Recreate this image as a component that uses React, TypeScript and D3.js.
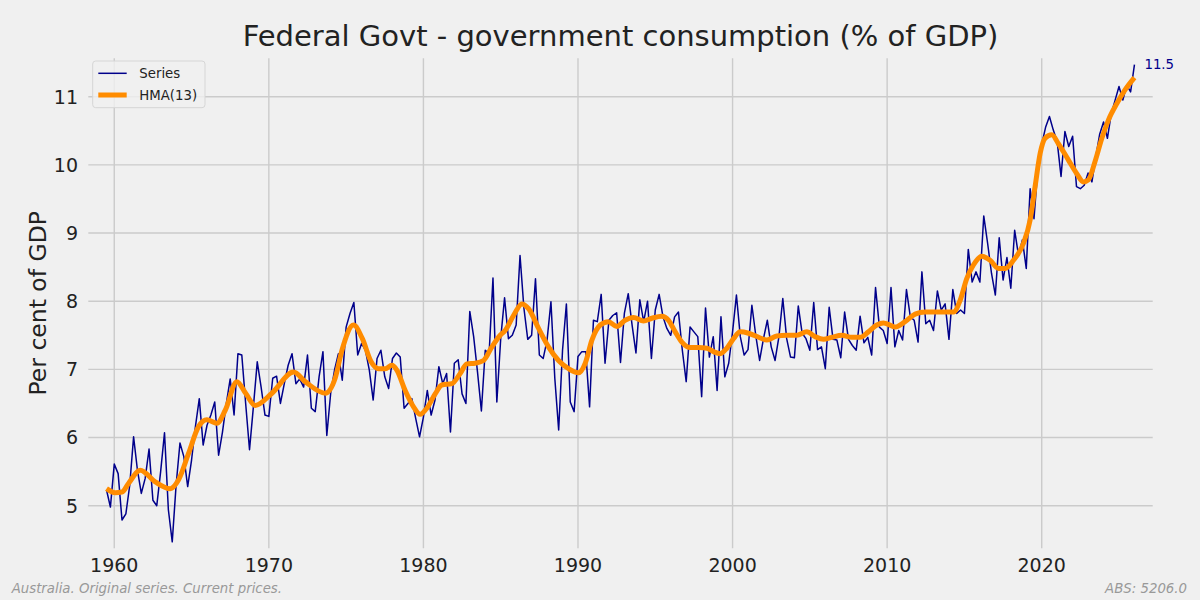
import React from "react";
import * as d3 from "d3";

// quarterly series, first point is the Sep quarter 1959
const firstYear = 1959.5;
const seriesValues = [
  5.23, 4.98, 5.61, 5.47, 4.79, 4.88, 5.3, 6.01, 5.52, 5.18, 5.4, 5.83, 5.08, 5.0, 5.5, 6.07,
  4.94, 4.47, 5.3, 5.92, 5.72, 5.28, 5.67, 6.16, 6.57, 5.89, 6.18, 6.33, 6.52, 5.74, 6.08, 6.5,
  6.86, 6.33, 7.23, 7.21, 6.5, 5.82, 6.45, 7.11, 6.74, 6.33, 6.31, 6.87, 6.9, 6.5, 6.79, 7.06,
  7.23, 6.79, 6.86, 6.74, 7.21, 6.43, 6.38, 6.89, 7.26, 6.03, 6.65, 6.99, 7.23, 6.84, 7.62, 7.82,
  7.98, 7.21, 7.38, 7.28, 6.99, 6.55, 7.16, 7.28, 6.89, 6.72, 7.16, 7.24, 7.18, 6.43, 6.5, 6.57,
  6.28, 6.01, 6.3, 6.69, 6.33, 6.55, 7.04, 6.79, 6.94, 6.08, 7.09, 7.14, 6.64, 6.5, 7.85, 7.48,
  6.96, 6.39, 7.28, 7.23, 8.34, 6.52, 7.45, 8.05, 7.45, 7.5, 7.65, 8.67, 7.9, 7.44, 7.5, 8.33,
  7.21, 7.16, 7.43, 7.99, 6.87, 6.11, 7.28, 7.96, 6.52, 6.38, 7.19, 7.26, 7.26, 6.45, 7.72, 7.7,
  8.1, 7.09, 7.72, 7.79, 7.83, 7.1, 7.82, 8.11, 7.65, 7.24, 8.02, 7.7, 8.0, 7.16, 7.87, 8.1,
  7.77, 7.6, 7.5, 7.77, 7.84, 7.28, 6.82, 7.62, 7.55, 7.48, 6.6, 7.9, 7.18, 7.48, 6.69, 7.77,
  6.89, 7.09, 7.55, 8.09, 7.48, 7.21, 7.29, 7.94, 7.5, 7.13, 7.45, 7.72, 7.33, 7.13, 7.48, 8.04,
  7.45, 7.18, 7.17, 7.93, 7.53, 7.45, 7.28, 7.98, 7.29, 7.33, 7.01, 7.91, 7.44, 7.43, 7.17, 7.84,
  7.44, 7.35, 7.28, 7.78, 7.39, 7.47, 7.21, 8.2, 7.62, 7.57, 7.38, 8.2, 7.33, 7.57, 7.43, 8.17,
  7.77, 7.72, 7.4, 8.43, 7.67, 7.72, 7.57, 8.15, 7.87, 7.96, 7.44, 8.17, 7.82, 7.87, 7.82, 8.76,
  8.28, 8.43, 8.28, 9.25, 8.85, 8.41, 8.09, 8.93, 8.31, 8.64, 8.19, 9.04, 8.67, 8.9, 8.48, 9.65,
  9.21, 9.95, 10.3, 10.55, 10.71, 10.51, 10.34, 9.83, 10.49, 10.27, 10.42, 9.68, 9.65, 9.7, 9.88, 9.75,
  10.12, 10.45, 10.63, 10.39, 10.75, 10.95, 11.15, 10.95, 11.17, 11.07, 11.47,
];

// Henderson moving average
const hmaYears = [
  1959.5, 1960.06, 1960.5, 1960.93, 1961.68, 1962.65, 1963.62, 1964.16, 1964.81, 1965.45,
  1965.99, 1966.64, 1967.18, 1967.93, 1968.5, 1969.12, 1970.2, 1971.6, 1972.35, 1973.65,
  1974.29, 1974.73, 1975.48, 1976.05, 1976.6, 1977.1, 1977.53, 1977.96, 1978.28, 1978.82,
  1979.36, 1979.79, 1980.22, 1980.76, 1981.19, 1981.84, 1982.38, 1982.81, 1983.35, 1983.89,
  1984.43, 1984.97, 1985.29, 1985.83, 1986.37, 1986.8, 1987.45, 1988.09, 1988.74, 1989.39,
  1990.03, 1990.47, 1990.9, 1991.44, 1991.97, 1992.51, 1993.05, 1993.59, 1994.24, 1994.78,
  1995.42, 1995.86, 1996.29, 1996.72, 1997.26, 1997.8, 1998.34, 1998.77, 1999.2, 1999.63,
  2000.06, 2000.49, 2001.03, 2001.79, 2002.22, 2002.86, 2003.51, 2004.16, 2004.8, 2005.34,
  2005.88, 2006.42, 2007.07, 2007.71, 2008.25, 2008.79, 2009.33, 2009.76, 2010.19, 2010.52,
  2011.16, 2011.81, 2012.46, 2013.1, 2013.75, 2014.29, 2014.72, 2015.15, 2015.58, 2016.12,
  2016.66, 2017.2, 2017.63, 2018.17, 2018.82, 2019.25, 2019.57, 2019.9, 2020.22, 2020.65,
  2021.08, 2021.73, 2022.27, 2022.7, 2023.02, 2023.45, 2023.89, 2024.32, 2024.86, 2025.39,
  2026.0,
];
const hmaValues = [
  5.25, 5.19, 5.2, 5.33, 5.52, 5.35, 5.25, 5.38, 5.77, 6.16,
  6.26, 6.21, 6.4, 6.82, 6.65, 6.47, 6.65, 6.96, 6.82, 6.65,
  6.87, 7.28, 7.65, 7.45, 7.12, 7.01, 7.01, 7.06, 6.99, 6.69,
  6.45, 6.34, 6.43, 6.64, 6.77, 6.79, 6.94, 7.08, 7.09, 7.13,
  7.33, 7.5, 7.57, 7.79, 7.96, 7.89, 7.6, 7.33, 7.13, 7.01,
  6.95, 7.09, 7.43, 7.65, 7.7, 7.63, 7.72, 7.76, 7.71, 7.75,
  7.78, 7.72, 7.55, 7.4, 7.32, 7.32, 7.31, 7.26, 7.23, 7.31,
  7.45, 7.55, 7.53, 7.46, 7.43, 7.49, 7.5, 7.5, 7.55, 7.48,
  7.44, 7.47, 7.5, 7.47, 7.47, 7.55, 7.65, 7.68, 7.65, 7.62,
  7.7, 7.81, 7.84, 7.84, 7.84, 7.84, 8.01, 8.33, 8.53, 8.66,
  8.6, 8.48, 8.48, 8.6, 8.85, 9.19, 9.68, 10.17, 10.39, 10.44,
  10.31, 10.07, 9.87, 9.75, 9.78, 10.05, 10.39, 10.66, 10.9, 11.1,
  11.28,
];

const xTicks = [1960, 1970, 1980, 1990, 2000, 2010, 2020];
const yTicks = [5, 6, 7, 8, 9, 10, 11];

const W = 1200;
const H = 600;
const font = "DejaVu Sans, sans-serif";

export default function App() {
  const x = d3.scaleLinear().domain([1958.32, 2027.18]).range([88.3, 1152.7]);
  const y = d3.scaleLinear().domain([4.375, 11.563]).range([548.3, 58.3]);

  const series = seriesValues.map((v, i) => [firstYear + i / 4, v] as [number, number]);
  const hma = hmaYears.map((t, i) => [t, hmaValues[i]] as [number, number]);

  const line = d3
    .line<[number, number]>()
    .x((d) => x(d[0]))
    .y((d) => y(d[1]));
  const seriesPath = line(series);
  const hmaPath = line.curve(d3.curveMonotoneX)(hma);

  const last = series[series.length - 1];
  const [x0, x1] = x.range();
  const [yb, yt] = y.range();

  return (
    <svg
      width={W}
      height={H}
      style={{ position: "absolute", left: 0, top: 0, display: "block" }}
      fontFamily={font}
    >
      <rect width={W} height={H} fill="#f0f0f0" />

      {/* grid */}
      {yTicks.map((t) => (
        <line key={"gy" + t} x1={x0} x2={x1} y1={y(t)} y2={y(t)} stroke="#cbcbcb" strokeWidth={1.4} />
      ))}
      {xTicks.map((t) => (
        <line key={"gx" + t} x1={x(t)} x2={x(t)} y1={yb} y2={yt} stroke="#cbcbcb" strokeWidth={1.4} />
      ))}

      {/* tick labels */}
      {yTicks.map((t) => (
        <text key={"ty" + t} x={78} y={y(t)} dy="0.36em" textAnchor="end" fontSize={19} fill="#222">
          {t}
        </text>
      ))}
      {xTicks.map((t) => (
        <text key={"tx" + t} x={x(t)} y={572} textAnchor="middle" fontSize={19} fill="#222">
          {t}
        </text>
      ))}

      <path d={seriesPath ?? ""} fill="none" stroke="#00008b" strokeWidth={1.5} strokeLinejoin="round" />
      <path d={hmaPath ?? ""} fill="none" stroke="#ff8c00" strokeWidth={5} strokeLinecap="butt" />

      <text x={x(last[0]) + 10} y={y(last[1])} dy="0.35em" fontSize={13.3} fill="#00008b">
        {last[1].toFixed(1)}
      </text>

      {/* legend */}
      <g>
        <rect x={92.7} y={61} width={112.3} height={46.7} rx={3} fill="#f0f0f0" fillOpacity={0.8} stroke="#d6d6d6" />
        <line x1={98.3} x2={126.7} y1={73.3} y2={73.3} stroke="#00008b" strokeWidth={1.5} />
        <text x={139.3} y={73.3} dy="0.35em" fontSize={13.3} fill="#222">Series</text>
        <line x1={98.3} x2={126.7} y1={95} y2={95} stroke="#ff8c00" strokeWidth={5} />
        <text x={139.3} y={95} dy="0.35em" fontSize={13.3} fill="#222">HMA(13)</text>
      </g>

      <text x={(x0 + x1) / 2} y={46} textAnchor="middle" fontSize={29} fill="#222">
        Federal Govt - government consumption (% of GDP)
      </text>
      <text
        transform={`translate(46,${(yb + yt) / 2}) rotate(-90)`}
        textAnchor="middle"
        fontSize={23.5}
        fill="#222"
      >
        Per cent of GDP
      </text>

      <text x={11.7} y={593} fontSize={13.3} fontStyle="italic" fill="#999">
        Australia. Original series. Current prices.
      </text>
      <text x={1187} y={593} textAnchor="end" fontSize={13.3} fontStyle="italic" fill="#999">
        ABS: 5206.0
      </text>
    </svg>
  );
}
